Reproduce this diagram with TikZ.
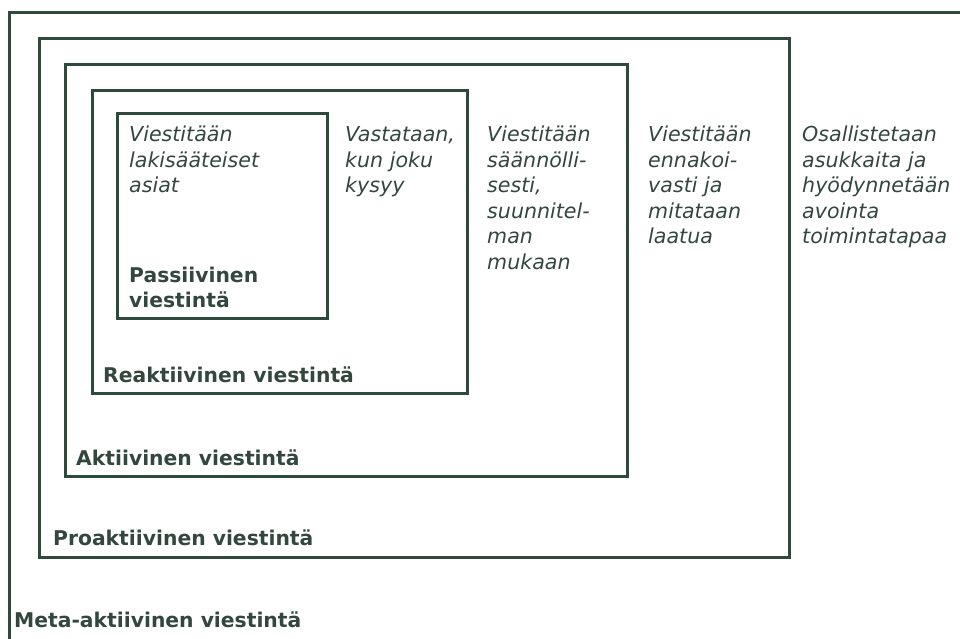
\documentclass[tikz,border=0pt]{standalone}
\usepackage{fontspec}
\setmainfont{DejaVu Sans}
\definecolor{frame}{HTML}{2D4A3C}
\definecolor{ink}{HTML}{34473F}
% a block of left-aligned lines whose baseline is that of its first line
\newcommand{\linesblock}[1]{\begin{tabular}[t]{@{}l@{}}#1\end{tabular}}
\begin{document}
\begin{tikzpicture}[x=1pt,y=-1pt,
  box/.style={draw=frame,line width=3pt},
  desc/.style={inner sep=0pt,anchor=base west,text=ink,
    font=\fontsize{20.6}{25.5}\selectfont\itshape},
  level/.style={inner sep=0pt,anchor=base west,text=ink,
    font=\fontsize{20.3}{25.5}\selectfont\bfseries}]
\useasboundingbox (0,0) rectangle (960,639);
\fill[white] (0,0) rectangle (960,639);
% nested frames, outermost runs off the page
\draw[box] (960,13) -- (9,13) -- (9,639);
\draw[box] (39,39) rectangle (789,557);
\draw[box] (65,65) rectangle (627,476);
\draw[box] (92,91) rectangle (467,393);
\draw[box] (117,114) rectangle (327,318);
% descriptions
\node[desc] (d1) at (129,142) {\linesblock{Viestitään\\lakisääteiset\\asiat}};
\node[desc] (d2) at (345,142) {\linesblock{Vastataan,\\kun joku\\kysyy}};
\node[desc] (d3) at (487,142) {\linesblock{Viestitään\\säännölli-\\sesti,\\suunnitel-\\man\\mukaan}};
\node[desc] (d4) at (648,142) {\linesblock{Viestitään\\ennakoi-\\vasti ja\\mitataan\\laatua}};
\node[desc] (d5) at (802,142) {\linesblock{Osallistetaan\\asukkaita ja\\hyödynnetään\\avointa\\toimintatapaa}};
% level names
\node[level] (l1) at (129,282) {\linesblock{Passiivinen\\viestintä}};
\node[level] (l2) at (103,382) {Reaktiivinen viestintä};
\node[level] (l3) at (76,465) {Aktiivinen viestintä};
\node[level] (l4) at (53,545) {Proaktiivinen viestintä};
\node[level] (l5) at (14,627) {Meta-aktiivinen viestintä};
\end{tikzpicture}
\end{document}
